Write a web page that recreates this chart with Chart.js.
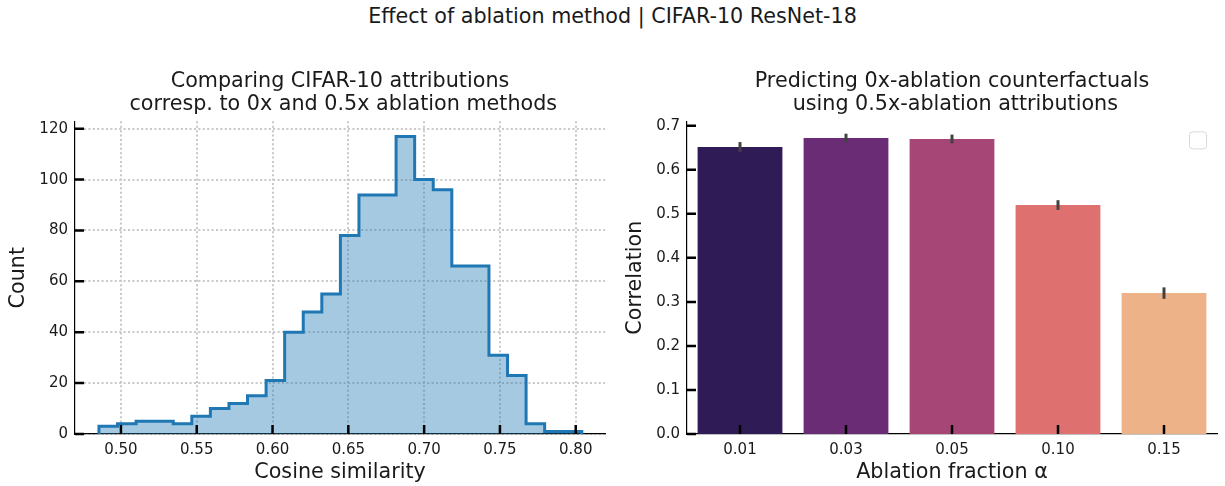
<!DOCTYPE html>
<html>
<head>
<meta charset="utf-8">
<script src="https://cdn.jsdelivr.net/npm/chart.js@4.4.0/dist/chart.umd.min.js"></script>
<style>
body { margin: 0; background: #fff; width: 1225px; height: 486px; position: relative; overflow: hidden; font-family: "DejaVu Sans", sans-serif; }
#sup { position: absolute; top: 4px; left: 0; width: 1225px; text-align: center; font-size: 20.7px; line-height: 24px; color: #1a1a1a; }
#histChart { position: absolute; left: 0; top: 60px; }
#barChart { position: absolute; left: 612px; top: 60px; }
</style>
</head>
<body>
<div id="sup">Effect of ablation method | CIFAR-10 ResNet-18</div>
<canvas id="histChart" width="612" height="426"></canvas>
<canvas id="barChart" width="613" height="426"></canvas>
<script>
// histogram: cosine similarity between the two attribution sets
var binStart = 0.4855;
var binWidth = 0.01225;
var counts = [3, 4, 5, 5, 4, 7, 10, 12, 15, 21, 40, 48, 55, 78, 94, 94, 117, 100, 96, 66, 66, 31, 23, 4, 1, 1];

// bar chart: correlation per ablation fraction
var fractions = ['0.01', '0.03', '0.05', '0.10', '0.15'];
var correlation = [0.652, 0.672, 0.670, 0.520, 0.320];
var corrErr = [0.011, 0.010, 0.010, 0.011, 0.013];
var barColors = ['#2f1b55', '#6a2c74', '#a64676', '#de716f', '#edb287'];

var textColor = '#1a1a1a';
var fuente = "'DejaVu Sans', sans-serif";
var tamTitulo = 20.7;
var tamTicks = 15;

// ticks drawn inside the axes, like the original figure
var inwardTicks = {
    id: 'inwardTicks',
    afterDraw: function(chart) {
        var ctx = chart.ctx;
        var a = chart.chartArea;
        var xs = chart.scales.x;
        var ys = chart.scales.y;
        ctx.save();
        ctx.strokeStyle = '#000';
        ctx.lineWidth = 2.5;
        ctx.beginPath();
        for (var i = 0; i < xs.ticks.length; i++) {
            var px = xs.getPixelForTick(i);
            ctx.moveTo(px, a.bottom);
            ctx.lineTo(px, a.bottom - 9);
        }
        for (var j = 0; j < ys.ticks.length; j++) {
            var py = ys.getPixelForTick(j);
            ctx.moveTo(a.left, py);
            ctx.lineTo(a.left + 9, py);
        }
        ctx.stroke();
        ctx.restore();
    }
};

var errorBars = {
    id: 'errorBars',
    afterDatasetsDraw: function(chart) {
        var ctx = chart.ctx;
        var ys = chart.scales.y;
        var meta = chart.getDatasetMeta(0);
        ctx.save();
        ctx.strokeStyle = '#424242';
        ctx.lineWidth = 3;
        meta.data.forEach(function(bar, i) {
            ctx.beginPath();
            ctx.moveTo(bar.x, ys.getPixelForValue(correlation[i] - corrErr[i]));
            ctx.lineTo(bar.x, ys.getPixelForValue(correlation[i] + corrErr[i]));
            ctx.stroke();
        });
        // empty legend frame in the corner
        var a = chart.chartArea;
        ctx.strokeStyle = '#d9d9d9';
        ctx.lineWidth = 1;
        ctx.beginPath();
        ctx.roundRect(a.right - 27.5, a.top + 10.5, 17, 17, 3);
        ctx.stroke();
        ctx.restore();
    }
};

function histPoints() {
    var pts = [{x: binStart, y: 0}];
    for (var i = 0; i < counts.length; i++) {
        pts.push({x: binStart + i * binWidth, y: counts[i]});
    }
    pts.push({x: binStart + counts.length * binWidth, y: 0});
    return pts;
}

new Chart(document.getElementById('histChart'), {
    type: 'line',
    data: {
        datasets: [{
            data: histPoints(),
            stepped: 'before',
            borderColor: '#1f77b4',
            borderWidth: 3,
            backgroundColor: 'rgba(31,119,180,0.4)',
            fill: 'origin',
            pointRadius: 0
        }]
    },
    plugins: [inwardTicks],
    options: {
        responsive: false,
        animation: false,
        layout: { padding: { left: 0, right: 7, top: 0, bottom: 0 } },
        plugins: {
            legend: { display: false },
            tooltip: { enabled: false },
            title: {
                display: true,
                fullSize: false,
                text: ['Comparing CIFAR-10 attributions', ' corresp. to 0x and 0.5x ablation methods'],
                color: textColor,
                font: { family: fuente, size: tamTitulo, weight: 'normal', lineHeight: 1.12 },
                padding: { top: 10, bottom: 5 }
            }
        },
        scales: {
            x: {
                type: 'linear',
                min: 0.4697,
                max: 0.8193,
                afterFit: function(s) { s.height = 52; },
                border: { display: true, color: '#000', width: 1.2, dash: [2, 2.4] },
                grid: { color: '#c8c8c8', lineWidth: 2, drawTicks: false },
                ticks: {
                    stepSize: 0.05,
                    includeBounds: false,
                    padding: 7,
                    maxRotation: 0,
                    color: textColor,
                    font: { family: fuente, size: tamTicks },
                    callback: function(v) { return Number(v).toFixed(2); }
                },
                title: {
                    display: true,
                    text: 'Cosine similarity',
                    color: textColor,
                    font: { family: fuente, size: tamTitulo },
                    padding: { top: 0, bottom: 1 }
                }
            },
            y: {
                min: 0,
                max: 122.9,
                afterFit: function(s) { s.width = 75; },
                border: { display: true, color: '#000', width: 1.2, dash: [2, 2.4] },
                grid: { color: '#c8c8c8', lineWidth: 2, drawTicks: false },
                ticks: {
                    stepSize: 20,
                    includeBounds: false,
                    padding: 7,
                    color: textColor,
                    font: { family: fuente, size: tamTicks }
                },
                title: {
                    display: true,
                    text: 'Count',
                    color: textColor,
                    font: { family: fuente, size: tamTitulo },
                    padding: { top: 6, bottom: 0 }
                }
            }
        }
    }
});

new Chart(document.getElementById('barChart'), {
    type: 'bar',
    data: {
        labels: fractions,
        datasets: [{
            data: correlation,
            backgroundColor: barColors,
            barPercentage: 0.8,
            categoryPercentage: 1.0
        }]
    },
    plugins: [errorBars, inwardTicks],
    options: {
        responsive: false,
        animation: false,
        layout: { padding: { left: 0, right: 8, top: 0, bottom: 0 } },
        plugins: {
            legend: { display: false },
            tooltip: { enabled: false },
            title: {
                display: true,
                fullSize: false,
                text: ['Predicting 0x-ablation counterfactuals', ' using 0.5x-ablation attributions'],
                color: textColor,
                font: { family: fuente, size: tamTitulo, weight: 'normal', lineHeight: 1.12 },
                padding: { top: 10, bottom: 5 }
            }
        },
        scales: {
            x: {
                afterFit: function(s) { s.height = 52; },
                border: { display: true, color: '#000', width: 1.2 },
                grid: { display: false, drawTicks: false },
                ticks: {
                    padding: 7,
                    maxRotation: 0,
                    minRotation: 0,
                    color: textColor,
                    font: { family: fuente, size: tamTicks }
                },
                title: {
                    display: true,
                    text: 'Ablation fraction α',
                    color: textColor,
                    font: { family: fuente, size: tamTitulo },
                    padding: { top: 0, bottom: 1 }
                }
            },
            y: {
                min: 0,
                max: 0.71,
                afterFit: function(s) { s.width = 75; },
                border: { display: true, color: '#000', width: 1.2 },
                grid: { display: false, drawTicks: false },
                ticks: {
                    stepSize: 0.1,
                    includeBounds: false,
                    padding: 7,
                    color: textColor,
                    font: { family: fuente, size: tamTicks },
                    callback: function(v) { return Number(v).toFixed(1); }
                },
                title: {
                    display: true,
                    text: 'Correlation',
                    color: textColor,
                    font: { family: fuente, size: tamTitulo },
                    padding: { top: 11, bottom: 0 }
                }
            }
        }
    }
});
</script>
</body>
</html>
